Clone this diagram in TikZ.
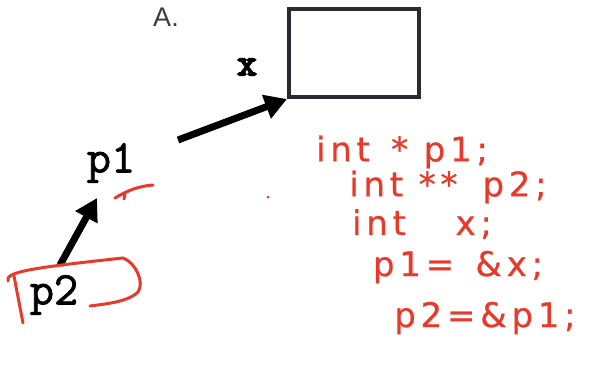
\documentclass[tikz,border=0pt]{standalone}
\usepackage{fontspec}
\setmainfont{Liberation Sans}
\newfontfamily\codefont[FakeBold=1.6]{Latin Modern Mono}
\newfontfamily\codebold[FakeBold=5]{Latin Modern Mono}
\newfontfamily\handfont[LetterSpace=14,FakeBold=0.6]{DejaVu Sans}
\usetikzlibrary{arrows.meta,positioning,calc}
\definecolor{ink}{HTML}{000000}
\definecolor{boxline}{HTML}{2B2A33}
\definecolor{pen}{HTML}{E8392A}
\definecolor{muted}{HTML}{3A3A44}

\begin{document}
\begin{tikzpicture}[x=1pt,y=-1pt,
    ptr/.style={line width=7pt,ink,-{Triangle[length=22pt,width=24pt]}},
    code/.style={font=\codefont\fontsize{47}{49}\selectfont,inner sep=0pt},
    scrib/.style={pen,line width=3pt,line cap=round,line join=round},
    note/.style={pen,font=\handfont\fontsize{34}{36}\selectfont,inner sep=0pt}]
  \useasboundingbox (0,0) rectangle (590,368);
  % memory cell and labels
  \node[draw=boxline,line width=4pt,minimum width=130pt,minimum height=88pt,inner sep=0pt] (xbox) at (354,53) {};
  \node[font=\fontsize{27}{29}\selectfont,text=muted] (lblA) at (166,17) {A.};
  \node[code,font=\codebold\fontsize{38}{40}\selectfont] (xname) at (247,67) {x};
  \node[code] (p1) at (111,163) {p1};
  \node[code] (p2) at (54,295) {p2};
  \coordinate (p1tail) at (178,140);
  \coordinate (p2tail) at (60,265);
  \coordinate (p1head) at (97,198);
  \draw[ptr] (p1tail) -- (xbox.south west);
  \draw[ptr] (p2tail) -- (p1head);
  % handwritten notes
  \node[note] (n1) at (402,152) {int \,* p1;};
  \node[note] (n2) at (448,187) {int ** \;p2;};
  \node[note] (n3) at (422,224) {int \quad x;};
  \node[note] (n4) at (458,267) {p1= \,\&x;};
  \node[note] (n5) at (485,318) {p2=\&p1;};
  \draw[scrib] (115,198) .. controls (128,190) and (140,186) .. (153,185);
  \draw[scrib] (125,194) -- (124,199);
  \fill[pen] (268,197) circle (1.5pt);
  \draw[scrib] (8,281) .. controls (5,272) and (30,268) .. (123,258)
    .. controls (135,262) and (145,282) .. (138,292)
    .. controls (128,302) and (105,304) .. (90,306);
  \draw[scrib] (14,276) -- (23,323);
\end{tikzpicture}
\end{document}
